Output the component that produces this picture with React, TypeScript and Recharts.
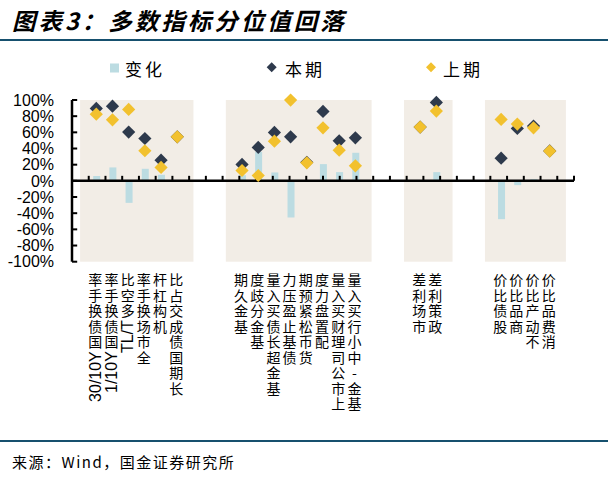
import React from 'react';
import { ComposedChart, Bar, Line, XAxis, YAxis, ReferenceArea, ReferenceLine } from 'recharts';

// 空字符串为组间留白
const categories = [
  '', '30/10Y国债换手率', '1/10Y国债换手率', 'TL/T多空比', '全市场换手率', '机构杠杆', '长期国债成交占比',
  '', '', '',
  '基金久期', '基金分歧度', '基金超长债买入量', '债基止盈压力', '货币松紧预期', '配置盘力度', '上市公司理财买入量', '基金-中小行买入量',
  '', '', '',
  '市场利差', '政策利差',
  '', '', '',
  '股债比价', '商品比价', '不动产比价', '消费品比价', '',
];

const change = [
  null, 6, 16.6, -27.2, 14.9, 7.5, 0,
  null, null, null,
  7, 35.9, 10.4, -45.3, 0.5, 20.7, 10.8, 34.7,
  null, null, null,
  0, 10.8,
  null, null, null,
  -47.4, -5.3, 2, 0, null,
];

const current = [
  null, 89.6, 92.4, 60.3, 52.4, 25.6, 54.5,
  null, null, null,
  20.3, 41.3, 59.9, 54.5, 23, 85.9, 49.5, 53.2,
  null, null, null,
  66.5, 97,
  null, null, null,
  28.1, 64.8, 67.7, 37, null,
];

const previous = [
  null, 82.5, 75.5, 88.3, 37.2, 16.6, 54.5,
  null, null, null,
  12.8, 6.6, 49.1, 99.9, 22.3, 65.6, 38, 18.6,
  null, null, null,
  66.5, 86.3,
  null, null, null,
  76, 70.2, 65.6, 36.8, null,
];

// 每组首末分类的位置
const groups = [[1, 6], [10, 17], [21, 22], [26, 29]];
const yTicks = [-100, -80, -60, -40, -20, 0, 20, 40, 60, 80, 100];

const rows = categories.map((name, i) => ({
  id: `c${i}`,
  name,
  change: change[i],
  current: current[i],
  previous: previous[i],
}));

const BG = '#F2EDE6';
const BAR = '#BCDCE2';
const NAVY = '#2E3A4C';
const GOLD = '#F2C12E';
const RULE = '#16506E';
const CJK = '"Noto Sans CJK SC", sans-serif';
const LATIN = '"Liberation Sans", Arial, sans-serif';

const latinW: Record<string, number> = {
  '0': 0.556, '1': 0.556, '3': 0.556, '/': 0.278, Y: 0.667, T: 0.611, L: 0.556,
};
const isRot = (ch: string) => /[A-Za-z0-9\/]/.test(ch);

const diamond = (color: string) => (props: any) => {
  const { cx, cy, value, index } = props;
  if (value == null || cx == null || cy == null) return <g key={`e${index}`} />;
  const r = 6.6;
  return (
    <path
      key={`d${index}`}
      d={`M${cx},${cy - r}L${cx + r},${cy}L${cx},${cy + r}L${cx - r},${cy}Z`}
      fill={color}
    />
  );
};

function CategoryTick(props: any) {
  const { x, y, payload } = props;
  const label = categories[payload.index] ?? '';
  if (!label) return <g />;
  // 拉丁字符成段旋转，中文字符直立，从下往上读
  const runs: { text: string; rot: boolean }[] = [];
  for (const ch of label) {
    const last = runs[runs.length - 1];
    if (isRot(ch) && last && last.rot) last.text += ch;
    else runs.push({ text: ch, rot: isRot(ch) });
  }
  const cx = x - 1;
  let cur = y + 11;
  const upright: React.ReactNode[] = [];
  const rotated: React.ReactNode[] = [];
  runs.reverse().forEach((r, i) => {
    if (r.rot) {
      const w = [...r.text].reduce((s, c) => s + (latinW[c] ?? 0.556), 0) * 16;
      rotated.push(
        <text key={i} transform={`translate(${cx},${cur + 1}) rotate(-90)`} textAnchor="end" dy="0.36em"
          fontSize={16} fontFamily={LATIN} fill="#000">{r.text}</text>
      );
      cur += w + 2;
    } else {
      upright.push(<tspan key={i} x={cx} y={cur + 12.5}>{r.text}</tspan>);
      cur += 15.5;
    }
  });
  return (
    <g>
      <text textAnchor="middle" fontSize={14} fontFamily={CJK} fill="#000">{upright}</text>
      {rotated}
    </g>
  );
}

export default function App() {
  return (
    <div style={{ position: 'absolute', left: 0, top: 0, width: 615, height: 479, background: '#fff', overflow: 'hidden' }}>
      <div style={{ position: 'absolute', left: 12, top: 5, fontFamily: CJK, fontSize: 23.5, fontWeight: 'bold', fontStyle: 'italic', lineHeight: '30px', color: '#000', letterSpacing: 3 }}>
        图表3：多数指标分位值回落
      </div>
      <div style={{ position: 'absolute', left: 0, top: 39, width: 608, height: 2, background: RULE }} />

      <ComposedChart width={615} height={479} data={rows} margin={{ top: 100, right: 41, bottom: 67.3, left: 0 }}>
        {groups.map(([a, b]) => (
          <ReferenceArea
            key={`g${a}`}
            x1={`c${a}`}
            x2={`c${b}`}
            ifOverflow="visible"
            shape={(p: any) => {
              const band = p.width / (b - a + 1);
              return <rect x={p.x - band / 2} y={p.y} width={p.width + band} height={p.height} fill={BG} />;
            }}
          />
        ))}
        <XAxis dataKey="id" type="category" interval={0} axisLine={false} tickLine={false} tickSize={0} tickMargin={0} height={150} tick={<CategoryTick />} />
        <XAxis xAxisId="n" type="number" domain={[0, categories.length]} allowDataOverflow hide />
        <YAxis
          domain={[-100, 100]}
          ticks={yTicks}
          interval={0}
          width={72}
          tickFormatter={(v: number) => `${v}%`}
          axisLine={{ stroke: '#000', strokeWidth: 2.5 }}
          tickLine={false}
          tickSize={0}
          tickMargin={18}
          tick={{ fill: '#000', fontSize: 16, fontFamily: LATIN }}
        />
        <Bar dataKey="change" fill={BAR} barSize={7} isAnimationActive={false} />
        <ReferenceLine y={0} stroke="#000" strokeWidth={2.5} />
        {categories.map((_, i) => (
          <ReferenceLine key={`xt${i}`} xAxisId="n" segment={[{ x: i + 1, y: 0 }, { x: i + 1, y: 6.2 }]} stroke="#000" strokeWidth={2} />
        ))}
        {yTicks.map((v) => (
          <ReferenceLine key={`yt${v}`} xAxisId="n" segment={[{ x: 0, y: v }, { x: 0.31, y: v }]} stroke="#000" strokeWidth={2} />
        ))}
        <Line dataKey="current" stroke="none" dot={diamond(NAVY)} activeDot={false} isAnimationActive={false} />
        <Line dataKey="previous" stroke="none" dot={diamond(GOLD)} activeDot={false} isAnimationActive={false} />
      </ComposedChart>

      <svg style={{ position: 'absolute', left: 0, top: 0, pointerEvents: 'none' }} width={615} height={100}>
        <rect x={110} y={63.5} width={9} height={9} fill={BAR} />
        <path d="M271.7,62.3L276.7,67.3L271.7,72.3L266.7,67.3Z" fill={NAVY} />
        <path d="M431,62.3L436,67.3L431,72.3L426,67.3Z" fill={GOLD} />
        <g fontFamily={CJK} fontSize={17} fill="#000" letterSpacing={3}>
          <text x={125} y={68} dominantBaseline="central">变化</text>
          <text x={285} y={68} dominantBaseline="central">本期</text>
          <text x={443} y={68} dominantBaseline="central">上期</text>
        </g>
      </svg>

      <div style={{ position: 'absolute', left: 0, top: 440, width: 608, height: 2, background: RULE }} />
      <div style={{ position: 'absolute', left: 12, top: 451, fontFamily: CJK, fontSize: 15, lineHeight: '22px', color: '#000', letterSpacing: 1.5 }}>
        来源：Wind，国金证券研究所
      </div>
    </div>
  );
}
